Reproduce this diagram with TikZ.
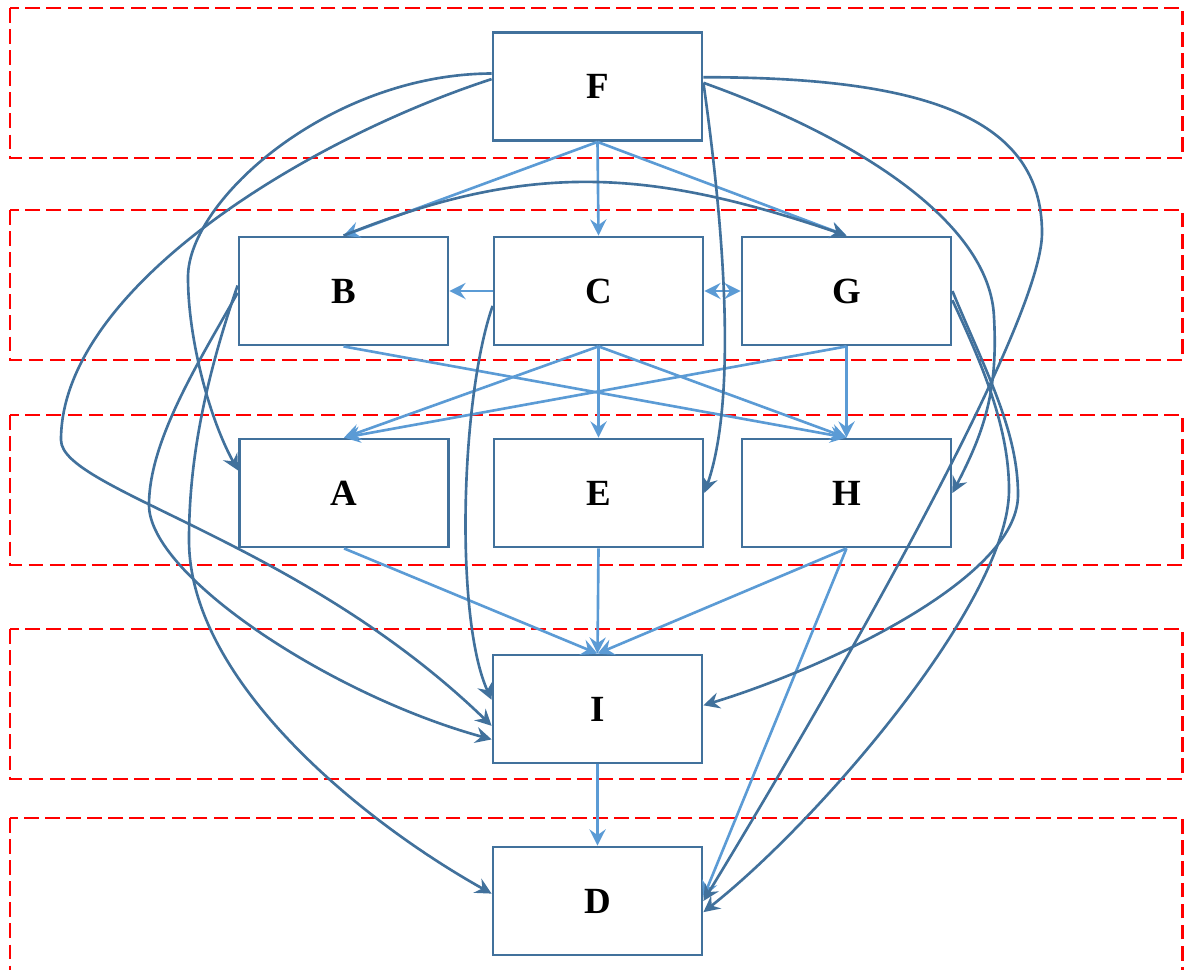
\documentclass[tikz,border=0pt]{standalone}
\usepackage{fontspec}
\setmainfont{Liberation Serif}
\usetikzlibrary{arrows.meta}
\definecolor{boxblue}{RGB}{65,113,156}
\definecolor{lineblue}{RGB}{91,155,213}
\tikzset{
    level/.style = {draw=red, line width=0.8pt, dash pattern=on 4.2pt off 1.8pt},
    block/.style = {rectangle, draw=boxblue, line width=0.8pt, minimum width=2.09cm, minimum height=1.08cm, font=\bfseries\fontsize{10.5}{12}\selectfont},
    direct/.style = {draw=lineblue, line width=0.75pt, ->, >={Stealth[length=4.6pt,width=4.6pt,inset=1.6pt]}},
    indirect/.style = {draw=boxblue, line width=0.75pt, ->, >={Stealth[length=4.6pt,width=4.6pt,inset=1.6pt]}}
}

\begin{document}
\begin{tikzpicture}[x=1cm, y=-1cm]
    \useasboundingbox (0,0) rectangle (11.84,9.69);

    % Levels
    \foreach \ytop/\ybot in {0.08/1.58, 2.10/3.60, 4.15/5.65, 6.29/7.79, 8.18/10.20}
        \draw[level] (0.10,\ytop) rectangle (11.825,\ybot);

    % Factors
    \node[block] (F) at (5.975,0.865) {F};
    \node[block] (B) at (3.435,2.91) {B};
    \node[block] (C) at (5.985,2.91) {C};
    \node[block] (G) at (8.465,2.91) {G};
    \node[block] (A) at (3.44,4.93) {A};
    \node[block] (E) at (5.985,4.93) {E};
    \node[block] (H) at (8.465,4.93) {H};
    \node[block] (I) at (5.975,7.09) {I};
    \node[block] (D) at (5.975,9.01) {D};

    % Direct relations
    \draw[direct] (F.south) -- (B.north);
    \draw[direct] (F.south) -- (C.north);
    \draw[direct] (F.south) -- (G.north);
    \draw[direct] (C.west) -- (B.east);
    \draw[direct, <->] (C.east) -- (G.west);
    \draw[direct] (B.south) -- (H.north);
    \draw[direct] (C.south) -- (A.north);
    \draw[direct] (C.south) -- (E.north);
    \draw[direct] (C.south) -- (H.north);
    \draw[direct] (G.south) -- (A.north);
    \draw[direct] (G.south) -- (H.north);
    \draw[direct] (A.south) -- (I.north);
    \draw[direct] (E.south) -- (I.north);
    \draw[direct] (H.south) -- (I.north);
    \draw[direct] (H.south) -- (D.2);
    \draw[direct] (I.south) -- (D.north);

    % Indirect relations
    \draw[indirect] (B.north) .. controls (5.31,1.60) and (6.50,1.69) .. (G.north);
    \draw[indirect] (F.173) .. controls (3.30,0.74) and (1.88,2.00) .. (1.88,2.77)
        .. controls (1.88,3.40) and (2.10,4.20) .. (A.168);
    \draw[indirect] (F.176) .. controls (3.02,1.41) and (0.61,2.90) .. (0.61,4.40)
        .. controls (0.61,4.90) and (3.00,5.40) .. (I.189);
    \draw[indirect] (B.181) .. controls (2.00,3.60) and (1.49,4.40) .. (1.49,5.05)
        .. controls (1.49,5.75) and (3.30,6.95) .. (I.196);
    \draw[indirect] (B.177) .. controls (2.05,3.80) and (1.89,4.60) .. (1.89,5.40)
        .. controls (1.89,6.80) and (3.60,8.20) .. (D.176);
    \draw[indirect] (C.188) .. controls (4.60,4.00) and (4.55,6.20) .. (I.175);
    \draw[indirect] (F.2) .. controls (7.20,2.00) and (7.40,3.90) .. (E.east);
    \draw[indirect] (F.2) .. controls (8.50,1.35) and (9.90,2.20) .. (9.94,3.17)
        .. controls (9.98,3.90) and (9.85,4.30) .. (H.east);
    \draw[indirect] (F.5) .. controls (9.30,0.77) and (10.42,1.20) .. (10.42,2.33)
        .. controls (10.42,3.20) and (8.50,6.60) .. (D.east);
    \draw[indirect] (G.east) .. controls (9.85,3.70) and (10.18,4.30) .. (10.18,4.95)
        .. controls (10.18,5.80) and (8.20,6.70) .. (I.2);
    \draw[indirect] (G.355) .. controls (9.85,3.70) and (10.09,4.30) .. (10.09,4.90)
        .. controls (10.09,6.00) and (8.20,8.20) .. (D.354);
\end{tikzpicture}
\end{document}
